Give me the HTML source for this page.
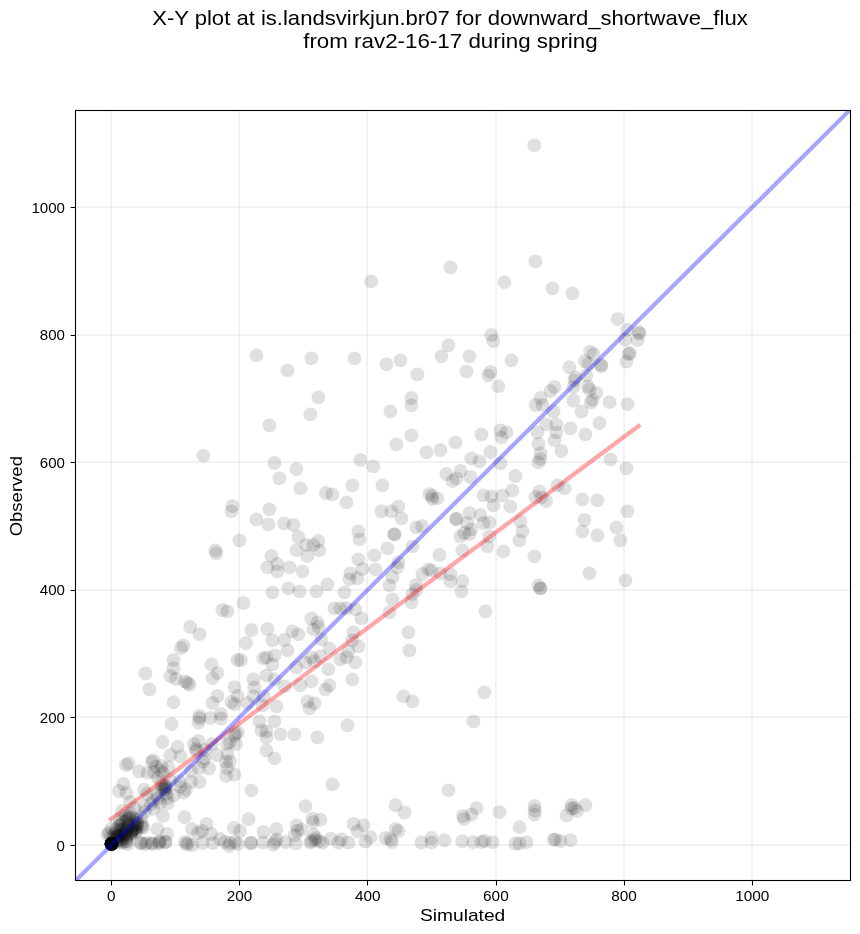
<!DOCTYPE html><html><head><meta charset="utf-8"><style>html,body{margin:0;padding:0;background:#fff;}svg{display:block;will-change:transform;}text{font-family:"Liberation Sans",sans-serif;fill:#000;}</style></head><body>
<svg width="860" height="934" viewBox="0 0 860 934">
<rect width="860" height="934" fill="#fff"/>
<text x="152.2" y="25" font-size="19.8" textLength="595.5" lengthAdjust="spacingAndGlyphs">X-Y plot at is.landsvirkjun.br07 for downward_shortwave_flux</text>
<text x="303.2" y="47.8" font-size="19.8" textLength="294.5" lengthAdjust="spacingAndGlyphs">from rav2-16-17 during spring</text>
<defs><clipPath id="ax"><rect x="75.5" y="110.5" width="775.0" height="770.0"/></clipPath></defs>
<g stroke="#000" stroke-opacity="0.05" stroke-width="2" fill="none"><path d="M111 110.5V880.5"/><path d="M75.5 845H850.5"/><path d="M239 110.5V880.5"/><path d="M75.5 717H850.5"/><path d="M367 110.5V880.5"/><path d="M75.5 590H850.5"/><path d="M496 110.5V880.5"/><path d="M75.5 462H850.5"/><path d="M624 110.5V880.5"/><path d="M75.5 335H850.5"/><path d="M752 110.5V880.5"/><path d="M75.5 207H850.5"/></g>
<g clip-path="url(#ax)" fill="#000" fill-opacity="0.120">
<circle cx="534.4" cy="145.4" r="6.95"/>
<circle cx="535.4" cy="261.4" r="6.95"/>
<circle cx="450.4" cy="267.4" r="6.95"/>
<circle cx="371.2" cy="281.4" r="6.95"/>
<circle cx="256.4" cy="355.4" r="6.95"/>
<circle cx="287.4" cy="370.4" r="6.95"/>
<circle cx="311.4" cy="358.4" r="6.95"/>
<circle cx="354.4" cy="358.4" r="6.95"/>
<circle cx="386.4" cy="364.2" r="6.95"/>
<circle cx="400.4" cy="360.4" r="6.95"/>
<circle cx="417.4" cy="374.4" r="6.95"/>
<circle cx="318.4" cy="397.4" r="6.95"/>
<circle cx="310.4" cy="414.4" r="6.95"/>
<circle cx="269.4" cy="425.4" r="6.95"/>
<circle cx="390.4" cy="411.4" r="6.95"/>
<circle cx="411.4" cy="398.0" r="6.95"/>
<circle cx="411.4" cy="405.4" r="6.95"/>
<circle cx="411.4" cy="435.4" r="6.95"/>
<circle cx="396.4" cy="444.4" r="6.95"/>
<circle cx="504.4" cy="282.2" r="6.95"/>
<circle cx="552.4" cy="288.4" r="6.95"/>
<circle cx="572.4" cy="293.4" r="6.95"/>
<circle cx="491.4" cy="335.0" r="6.95"/>
<circle cx="493.4" cy="341.0" r="6.95"/>
<circle cx="448.4" cy="345.4" r="6.95"/>
<circle cx="441.4" cy="356.4" r="6.95"/>
<circle cx="469.4" cy="356.4" r="6.95"/>
<circle cx="511.4" cy="360.4" r="6.95"/>
<circle cx="466.4" cy="371.4" r="6.95"/>
<circle cx="490.4" cy="372.0" r="6.95"/>
<circle cx="488.4" cy="375.4" r="6.95"/>
<circle cx="498.4" cy="386.4" r="6.95"/>
<circle cx="546.4" cy="424.4" r="6.95"/>
<circle cx="556.4" cy="424.4" r="6.95"/>
<circle cx="570.4" cy="428.4" r="6.95"/>
<circle cx="585.4" cy="434.4" r="6.95"/>
<circle cx="537.4" cy="432.4" r="6.95"/>
<circle cx="556.4" cy="432.4" r="6.95"/>
<circle cx="554.4" cy="440.4" r="6.95"/>
<circle cx="538.4" cy="444.0" r="6.95"/>
<circle cx="561.4" cy="451.0" r="6.95"/>
<circle cx="500.4" cy="430.4" r="6.95"/>
<circle cx="506.4" cy="432.4" r="6.95"/>
<circle cx="501.4" cy="437.4" r="6.95"/>
<circle cx="481.4" cy="434.4" r="6.95"/>
<circle cx="455.4" cy="442.4" r="6.95"/>
<circle cx="440.4" cy="450.0" r="6.95"/>
<circle cx="426.4" cy="452.4" r="6.95"/>
<circle cx="490.4" cy="452.0" r="6.95"/>
<circle cx="569.4" cy="367.3" r="6.95"/>
<circle cx="590.1" cy="351.6" r="6.95"/>
<circle cx="584.9" cy="361.3" r="6.95"/>
<circle cx="588.5" cy="363.7" r="6.95"/>
<circle cx="575.4" cy="377.5" r="6.95"/>
<circle cx="574.5" cy="380.5" r="6.95"/>
<circle cx="573.4" cy="387.1" r="6.95"/>
<circle cx="586.5" cy="375.5" r="6.95"/>
<circle cx="587.9" cy="386.5" r="6.95"/>
<circle cx="589.5" cy="389.5" r="6.95"/>
<circle cx="573.4" cy="400.5" r="6.95"/>
<circle cx="581.5" cy="411.5" r="6.95"/>
<circle cx="554.5" cy="387.0" r="6.95"/>
<circle cx="550.5" cy="391.0" r="6.95"/>
<circle cx="540.5" cy="398.0" r="6.95"/>
<circle cx="535.5" cy="405.0" r="6.95"/>
<circle cx="542.5" cy="405.0" r="6.95"/>
<circle cx="553.5" cy="411.5" r="6.95"/>
<circle cx="593.5" cy="354.0" r="6.95"/>
<circle cx="601.0" cy="365.0" r="6.95"/>
<circle cx="617.5" cy="319.2" r="6.95"/>
<circle cx="627.2" cy="329.8" r="6.95"/>
<circle cx="638.8" cy="332.0" r="6.95"/>
<circle cx="637.5" cy="340.2" r="6.95"/>
<circle cx="625.2" cy="339.5" r="6.95"/>
<circle cx="628.5" cy="354.0" r="6.95"/>
<circle cx="626.5" cy="361.5" r="6.95"/>
<circle cx="596.3" cy="392.9" r="6.95"/>
<circle cx="592.6" cy="399.9" r="6.95"/>
<circle cx="590.8" cy="402.5" r="6.95"/>
<circle cx="609.5" cy="402.2" r="6.95"/>
<circle cx="627.5" cy="404.2" r="6.95"/>
<circle cx="599.5" cy="423.2" r="6.95"/>
<circle cx="203.4" cy="455.6" r="6.95"/>
<circle cx="232.4" cy="506.0" r="6.95"/>
<circle cx="231.4" cy="511.4" r="6.95"/>
<circle cx="239.4" cy="540.4" r="6.95"/>
<circle cx="215.4" cy="550.4" r="6.95"/>
<circle cx="216.4" cy="553.4" r="6.95"/>
<circle cx="243.4" cy="603.0" r="6.95"/>
<circle cx="222.4" cy="610.0" r="6.95"/>
<circle cx="227.4" cy="611.4" r="6.95"/>
<circle cx="274.4" cy="463.0" r="6.95"/>
<circle cx="296.4" cy="469.0" r="6.95"/>
<circle cx="279.4" cy="478.4" r="6.95"/>
<circle cx="300.4" cy="488.4" r="6.95"/>
<circle cx="360.4" cy="460.0" r="6.95"/>
<circle cx="373.4" cy="466.4" r="6.95"/>
<circle cx="352.4" cy="485.4" r="6.95"/>
<circle cx="382.4" cy="485.4" r="6.95"/>
<circle cx="326.0" cy="493.0" r="6.95"/>
<circle cx="332.4" cy="494.4" r="6.95"/>
<circle cx="346.4" cy="502.4" r="6.95"/>
<circle cx="269.4" cy="509.4" r="6.95"/>
<circle cx="256.4" cy="519.4" r="6.95"/>
<circle cx="268.4" cy="524.4" r="6.95"/>
<circle cx="284.0" cy="523.4" r="6.95"/>
<circle cx="293.4" cy="525.0" r="6.95"/>
<circle cx="381.4" cy="511.4" r="6.95"/>
<circle cx="391.4" cy="511.4" r="6.95"/>
<circle cx="398.4" cy="506.4" r="6.95"/>
<circle cx="401.4" cy="518.4" r="6.95"/>
<circle cx="416.2" cy="527.4" r="6.95"/>
<circle cx="394.4" cy="534.4" r="6.95"/>
<circle cx="394.4" cy="534.4" r="6.95"/>
<circle cx="358.4" cy="531.4" r="6.95"/>
<circle cx="359.4" cy="539.4" r="6.95"/>
<circle cx="298.4" cy="537.0" r="6.95"/>
<circle cx="306.4" cy="545.0" r="6.95"/>
<circle cx="313.4" cy="545.0" r="6.95"/>
<circle cx="318.4" cy="541.0" r="6.95"/>
<circle cx="319.4" cy="550.4" r="6.95"/>
<circle cx="296.4" cy="550.4" r="6.95"/>
<circle cx="307.4" cy="556.0" r="6.95"/>
<circle cx="387.4" cy="548.4" r="6.95"/>
<circle cx="412.4" cy="546.4" r="6.95"/>
<circle cx="271.4" cy="556.0" r="6.95"/>
<circle cx="277.4" cy="564.0" r="6.95"/>
<circle cx="267.4" cy="567.4" r="6.95"/>
<circle cx="277.4" cy="571.4" r="6.95"/>
<circle cx="289.4" cy="567.4" r="6.95"/>
<circle cx="302.4" cy="571.4" r="6.95"/>
<circle cx="374.4" cy="555.4" r="6.95"/>
<circle cx="358.4" cy="559.4" r="6.95"/>
<circle cx="362.4" cy="569.0" r="6.95"/>
<circle cx="375.4" cy="569.4" r="6.95"/>
<circle cx="350.4" cy="573.4" r="6.95"/>
<circle cx="349.4" cy="579.4" r="6.95"/>
<circle cx="357.4" cy="578.4" r="6.95"/>
<circle cx="398.4" cy="562.4" r="6.95"/>
<circle cx="397.4" cy="567.4" r="6.95"/>
<circle cx="392.4" cy="577.0" r="6.95"/>
<circle cx="389.4" cy="585.4" r="6.95"/>
<circle cx="416.0" cy="585.0" r="6.95"/>
<circle cx="272.4" cy="592.4" r="6.95"/>
<circle cx="288.4" cy="588.4" r="6.95"/>
<circle cx="299.4" cy="591.4" r="6.95"/>
<circle cx="316.4" cy="591.4" r="6.95"/>
<circle cx="327.4" cy="584.4" r="6.95"/>
<circle cx="344.4" cy="592.4" r="6.95"/>
<circle cx="392.4" cy="599.4" r="6.95"/>
<circle cx="412.4" cy="594.0" r="6.95"/>
<circle cx="411.4" cy="602.4" r="6.95"/>
<circle cx="334.4" cy="608.4" r="6.95"/>
<circle cx="340.4" cy="608.4" r="6.95"/>
<circle cx="346.4" cy="608.0" r="6.95"/>
<circle cx="355.4" cy="609.4" r="6.95"/>
<circle cx="361.4" cy="618.4" r="6.95"/>
<circle cx="311.4" cy="618.4" r="6.95"/>
<circle cx="317.4" cy="622.4" r="6.95"/>
<circle cx="389.4" cy="612.4" r="6.95"/>
<circle cx="479.4" cy="461.4" r="6.95"/>
<circle cx="471.4" cy="458.4" r="6.95"/>
<circle cx="500.4" cy="463.4" r="6.95"/>
<circle cx="538.4" cy="462.4" r="6.95"/>
<circle cx="540.4" cy="459.0" r="6.95"/>
<circle cx="446.4" cy="474.0" r="6.95"/>
<circle cx="460.4" cy="471.0" r="6.95"/>
<circle cx="470.4" cy="477.0" r="6.95"/>
<circle cx="452.4" cy="481.0" r="6.95"/>
<circle cx="456.4" cy="478.4" r="6.95"/>
<circle cx="515.4" cy="476.0" r="6.95"/>
<circle cx="429.4" cy="494.0" r="6.95"/>
<circle cx="432.4" cy="499.0" r="6.95"/>
<circle cx="437.4" cy="498.4" r="6.95"/>
<circle cx="483.4" cy="495.4" r="6.95"/>
<circle cx="491.4" cy="496.4" r="6.95"/>
<circle cx="493.4" cy="505.4" r="6.95"/>
<circle cx="502.4" cy="495.4" r="6.95"/>
<circle cx="512.4" cy="490.4" r="6.95"/>
<circle cx="510.4" cy="506.4" r="6.95"/>
<circle cx="535.4" cy="497.0" r="6.95"/>
<circle cx="539.4" cy="491.4" r="6.95"/>
<circle cx="541.4" cy="497.4" r="6.95"/>
<circle cx="546.0" cy="501.0" r="6.95"/>
<circle cx="557.4" cy="485.4" r="6.95"/>
<circle cx="564.4" cy="488.4" r="6.95"/>
<circle cx="582.4" cy="499.4" r="6.95"/>
<circle cx="469.4" cy="513.0" r="6.95"/>
<circle cx="456.4" cy="519.0" r="6.95"/>
<circle cx="480.4" cy="515.0" r="6.95"/>
<circle cx="467.4" cy="523.0" r="6.95"/>
<circle cx="483.4" cy="523.0" r="6.95"/>
<circle cx="489.4" cy="522.4" r="6.95"/>
<circle cx="471.4" cy="529.4" r="6.95"/>
<circle cx="469.4" cy="534.0" r="6.95"/>
<circle cx="460.4" cy="536.4" r="6.95"/>
<circle cx="464.4" cy="533.0" r="6.95"/>
<circle cx="489.4" cy="536.4" r="6.95"/>
<circle cx="487.4" cy="546.4" r="6.95"/>
<circle cx="503.4" cy="551.4" r="6.95"/>
<circle cx="520.4" cy="521.4" r="6.95"/>
<circle cx="522.4" cy="531.4" r="6.95"/>
<circle cx="519.4" cy="540.4" r="6.95"/>
<circle cx="584.4" cy="520.0" r="6.95"/>
<circle cx="582.4" cy="531.4" r="6.95"/>
<circle cx="534.4" cy="556.4" r="6.95"/>
<circle cx="462.4" cy="550.4" r="6.95"/>
<circle cx="439.4" cy="555.0" r="6.95"/>
<circle cx="422.0" cy="526.0" r="6.95"/>
<circle cx="428.4" cy="569.4" r="6.95"/>
<circle cx="431.4" cy="570.4" r="6.95"/>
<circle cx="422.4" cy="574.0" r="6.95"/>
<circle cx="440.4" cy="573.4" r="6.95"/>
<circle cx="450.4" cy="574.4" r="6.95"/>
<circle cx="450.4" cy="581.4" r="6.95"/>
<circle cx="462.4" cy="581.0" r="6.95"/>
<circle cx="461.4" cy="591.4" r="6.95"/>
<circle cx="538.4" cy="585.4" r="6.95"/>
<circle cx="540.4" cy="588.4" r="6.95"/>
<circle cx="540.4" cy="588.4" r="6.95"/>
<circle cx="589.4" cy="573.4" r="6.95"/>
<circle cx="485.4" cy="611.4" r="6.95"/>
<circle cx="540.5" cy="453.5" r="6.95"/>
<circle cx="610.4" cy="459.4" r="6.95"/>
<circle cx="626.4" cy="468.4" r="6.95"/>
<circle cx="597.4" cy="500.4" r="6.95"/>
<circle cx="627.4" cy="511.4" r="6.95"/>
<circle cx="616.4" cy="527.4" r="6.95"/>
<circle cx="597.4" cy="535.4" r="6.95"/>
<circle cx="620.4" cy="540.4" r="6.95"/>
<circle cx="625.4" cy="580.4" r="6.95"/>
<circle cx="190.2" cy="627.0" r="6.95"/>
<circle cx="199.5" cy="634.2" r="6.95"/>
<circle cx="183.5" cy="645.5" r="6.95"/>
<circle cx="181.0" cy="648.0" r="6.95"/>
<circle cx="173.5" cy="660.0" r="6.95"/>
<circle cx="173.5" cy="668.2" r="6.95"/>
<circle cx="170.5" cy="676.0" r="6.95"/>
<circle cx="176.0" cy="679.0" r="6.95"/>
<circle cx="185.0" cy="681.5" r="6.95"/>
<circle cx="187.5" cy="683.0" r="6.95"/>
<circle cx="189.5" cy="684.5" r="6.95"/>
<circle cx="211.5" cy="664.5" r="6.95"/>
<circle cx="217.5" cy="673.2" r="6.95"/>
<circle cx="212.5" cy="678.2" r="6.95"/>
<circle cx="237.5" cy="660.0" r="6.95"/>
<circle cx="241.0" cy="660.0" r="6.95"/>
<circle cx="246.0" cy="643.0" r="6.95"/>
<circle cx="234.5" cy="687.2" r="6.95"/>
<circle cx="237.5" cy="696.0" r="6.95"/>
<circle cx="217.5" cy="696.0" r="6.95"/>
<circle cx="212.5" cy="703.0" r="6.95"/>
<circle cx="173.5" cy="702.2" r="6.95"/>
<circle cx="231.5" cy="702.0" r="6.95"/>
<circle cx="234.5" cy="704.2" r="6.95"/>
<circle cx="145.4" cy="673.4" r="6.95"/>
<circle cx="149.4" cy="689.4" r="6.95"/>
<circle cx="199.5" cy="716.0" r="6.95"/>
<circle cx="198.5" cy="722.5" r="6.95"/>
<circle cx="210.5" cy="718.0" r="6.95"/>
<circle cx="221.0" cy="718.5" r="6.95"/>
<circle cx="221.0" cy="714.0" r="6.95"/>
<circle cx="171.5" cy="724.0" r="6.95"/>
<circle cx="238.0" cy="732.5" r="6.95"/>
<circle cx="234.5" cy="735.5" r="6.95"/>
<circle cx="230.0" cy="742.0" r="6.95"/>
<circle cx="236.0" cy="744.0" r="6.95"/>
<circle cx="227.0" cy="744.0" r="6.95"/>
<circle cx="162.5" cy="742.0" r="6.95"/>
<circle cx="177.5" cy="747.0" r="6.95"/>
<circle cx="170.5" cy="755.0" r="6.95"/>
<circle cx="180.5" cy="756.5" r="6.95"/>
<circle cx="194.0" cy="744.0" r="6.95"/>
<circle cx="198.5" cy="741.0" r="6.95"/>
<circle cx="196.5" cy="751.0" r="6.95"/>
<circle cx="205.0" cy="750.0" r="6.95"/>
<circle cx="212.0" cy="744.0" r="6.95"/>
<circle cx="217.0" cy="755.0" r="6.95"/>
<circle cx="227.5" cy="754.0" r="6.95"/>
<circle cx="230.0" cy="761.5" r="6.95"/>
<circle cx="226.0" cy="762.0" r="6.95"/>
<circle cx="227.0" cy="768.0" r="6.95"/>
<circle cx="226.0" cy="776.0" r="6.95"/>
<circle cx="234.5" cy="774.5" r="6.95"/>
<circle cx="203.0" cy="761.5" r="6.95"/>
<circle cx="209.0" cy="768.5" r="6.95"/>
<circle cx="199.0" cy="768.0" r="6.95"/>
<circle cx="191.0" cy="771.0" r="6.95"/>
<circle cx="199.5" cy="782.0" r="6.95"/>
<circle cx="191.0" cy="782.0" r="6.95"/>
<circle cx="195.7" cy="749.0" r="6.95"/>
<circle cx="204.4" cy="758.3" r="6.95"/>
<circle cx="251.4" cy="630.0" r="6.95"/>
<circle cx="267.4" cy="629.0" r="6.95"/>
<circle cx="292.4" cy="631.4" r="6.95"/>
<circle cx="298.4" cy="634.4" r="6.95"/>
<circle cx="313.4" cy="629.4" r="6.95"/>
<circle cx="318.4" cy="627.0" r="6.95"/>
<circle cx="321.4" cy="639.4" r="6.95"/>
<circle cx="272.4" cy="640.4" r="6.95"/>
<circle cx="284.4" cy="640.0" r="6.95"/>
<circle cx="287.4" cy="650.4" r="6.95"/>
<circle cx="263.4" cy="658.4" r="6.95"/>
<circle cx="266.4" cy="657.4" r="6.95"/>
<circle cx="274.4" cy="655.4" r="6.95"/>
<circle cx="272.4" cy="664.4" r="6.95"/>
<circle cx="296.4" cy="667.4" r="6.95"/>
<circle cx="305.4" cy="662.4" r="6.95"/>
<circle cx="311.4" cy="657.4" r="6.95"/>
<circle cx="314.4" cy="661.4" r="6.95"/>
<circle cx="320.4" cy="656.4" r="6.95"/>
<circle cx="329.4" cy="648.4" r="6.95"/>
<circle cx="328.4" cy="669.4" r="6.95"/>
<circle cx="353.4" cy="632.4" r="6.95"/>
<circle cx="352.4" cy="640.4" r="6.95"/>
<circle cx="358.4" cy="646.4" r="6.95"/>
<circle cx="348.4" cy="651.4" r="6.95"/>
<circle cx="346.4" cy="657.4" r="6.95"/>
<circle cx="340.4" cy="659.4" r="6.95"/>
<circle cx="355.4" cy="662.4" r="6.95"/>
<circle cx="352.4" cy="679.4" r="6.95"/>
<circle cx="408.4" cy="632.4" r="6.95"/>
<circle cx="409.4" cy="650.4" r="6.95"/>
<circle cx="266.4" cy="675.4" r="6.95"/>
<circle cx="253.4" cy="679.4" r="6.95"/>
<circle cx="254.4" cy="687.4" r="6.95"/>
<circle cx="274.4" cy="679.4" r="6.95"/>
<circle cx="284.4" cy="686.4" r="6.95"/>
<circle cx="300.4" cy="685.4" r="6.95"/>
<circle cx="311.4" cy="681.4" r="6.95"/>
<circle cx="329.4" cy="685.4" r="6.95"/>
<circle cx="325.4" cy="689.4" r="6.95"/>
<circle cx="262.4" cy="705.4" r="6.95"/>
<circle cx="276.4" cy="706.4" r="6.95"/>
<circle cx="307.4" cy="701.4" r="6.95"/>
<circle cx="314.4" cy="703.4" r="6.95"/>
<circle cx="309.4" cy="708.4" r="6.95"/>
<circle cx="403.4" cy="696.4" r="6.95"/>
<circle cx="412.4" cy="701.4" r="6.95"/>
<circle cx="259.4" cy="721.4" r="6.95"/>
<circle cx="274.4" cy="721.4" r="6.95"/>
<circle cx="261.4" cy="730.4" r="6.95"/>
<circle cx="266.4" cy="731.4" r="6.95"/>
<circle cx="266.4" cy="737.4" r="6.95"/>
<circle cx="280.4" cy="734.4" r="6.95"/>
<circle cx="294.4" cy="734.4" r="6.95"/>
<circle cx="317.4" cy="737.4" r="6.95"/>
<circle cx="347.4" cy="725.4" r="6.95"/>
<circle cx="266.4" cy="750.4" r="6.95"/>
<circle cx="274.4" cy="758.4" r="6.95"/>
<circle cx="332.4" cy="784.4" r="6.95"/>
<circle cx="251.4" cy="790.4" r="6.95"/>
<circle cx="253.6" cy="696.3" r="6.95"/>
<circle cx="263.7" cy="696.3" r="6.95"/>
<circle cx="247.5" cy="703.3" r="6.95"/>
<circle cx="484.4" cy="692.4" r="6.95"/>
<circle cx="473.4" cy="721.4" r="6.95"/>
<circle cx="448.4" cy="790.4" r="6.95"/>
<circle cx="534.5" cy="806.0" r="6.95"/>
<circle cx="535.0" cy="810.5" r="6.95"/>
<circle cx="534.5" cy="814.5" r="6.95"/>
<circle cx="519.5" cy="827.2" r="6.95"/>
<circle cx="571.5" cy="805.0" r="6.95"/>
<circle cx="571.5" cy="808.5" r="6.95"/>
<circle cx="574.5" cy="808.0" r="6.95"/>
<circle cx="577.0" cy="811.0" r="6.95"/>
<circle cx="566.5" cy="815.5" r="6.95"/>
<circle cx="585.5" cy="805.0" r="6.95"/>
<circle cx="515.5" cy="843.5" r="6.95"/>
<circle cx="519.5" cy="843.5" r="6.95"/>
<circle cx="526.5" cy="842.2" r="6.95"/>
<circle cx="553.5" cy="839.7" r="6.95"/>
<circle cx="555.5" cy="839.5" r="6.95"/>
<circle cx="560.5" cy="841.0" r="6.95"/>
<circle cx="570.5" cy="840.2" r="6.95"/>
<circle cx="476.5" cy="808.2" r="6.95"/>
<circle cx="471.5" cy="814.5" r="6.95"/>
<circle cx="463.0" cy="816.0" r="6.95"/>
<circle cx="464.0" cy="819.0" r="6.95"/>
<circle cx="499.5" cy="812.2" r="6.95"/>
<circle cx="421.5" cy="842.5" r="6.95"/>
<circle cx="431.5" cy="838.0" r="6.95"/>
<circle cx="431.5" cy="842.5" r="6.95"/>
<circle cx="444.5" cy="840.2" r="6.95"/>
<circle cx="462.2" cy="841.2" r="6.95"/>
<circle cx="473.2" cy="842.2" r="6.95"/>
<circle cx="481.5" cy="842.0" r="6.95"/>
<circle cx="484.5" cy="841.0" r="6.95"/>
<circle cx="492.5" cy="842.2" r="6.95"/>
<circle cx="395.5" cy="805.2" r="6.95"/>
<circle cx="404.5" cy="812.5" r="6.95"/>
<circle cx="353.5" cy="824.0" r="6.95"/>
<circle cx="363.5" cy="825.2" r="6.95"/>
<circle cx="357.5" cy="831.2" r="6.95"/>
<circle cx="370.5" cy="837.2" r="6.95"/>
<circle cx="365.5" cy="841.5" r="6.95"/>
<circle cx="385.5" cy="838.0" r="6.95"/>
<circle cx="395.5" cy="829.0" r="6.95"/>
<circle cx="398.5" cy="831.0" r="6.95"/>
<circle cx="392.0" cy="842.0" r="6.95"/>
<circle cx="390.5" cy="839.5" r="6.95"/>
<circle cx="341.5" cy="839.5" r="6.95"/>
<circle cx="338.5" cy="842.5" r="6.95"/>
<circle cx="348.5" cy="842.5" r="6.95"/>
<circle cx="305.5" cy="806.2" r="6.95"/>
<circle cx="248.5" cy="819.2" r="6.95"/>
<circle cx="312.5" cy="818.7" r="6.95"/>
<circle cx="313.0" cy="822.3" r="6.95"/>
<circle cx="320.4" cy="819.7" r="6.95"/>
<circle cx="296.5" cy="825.5" r="6.95"/>
<circle cx="297.3" cy="830.7" r="6.95"/>
<circle cx="301.5" cy="829.7" r="6.95"/>
<circle cx="294.7" cy="835.4" r="6.95"/>
<circle cx="295.8" cy="843.3" r="6.95"/>
<circle cx="313.6" cy="834.9" r="6.95"/>
<circle cx="310.4" cy="842.7" r="6.95"/>
<circle cx="315.1" cy="840.1" r="6.95"/>
<circle cx="316.0" cy="838.0" r="6.95"/>
<circle cx="319.3" cy="841.2" r="6.95"/>
<circle cx="322.5" cy="842.7" r="6.95"/>
<circle cx="330.8" cy="838.6" r="6.95"/>
<circle cx="263.5" cy="832.0" r="6.95"/>
<circle cx="276.5" cy="829.0" r="6.95"/>
<circle cx="251.0" cy="843.0" r="6.95"/>
<circle cx="251.0" cy="843.0" r="6.95"/>
<circle cx="263.0" cy="842.5" r="6.95"/>
<circle cx="275.0" cy="842.0" r="6.95"/>
<circle cx="276.5" cy="839.5" r="6.95"/>
<circle cx="273.5" cy="844.5" r="6.95"/>
<circle cx="285.5" cy="842.2" r="6.95"/>
<circle cx="163.0" cy="816.0" r="6.95"/>
<circle cx="184.5" cy="817.2" r="6.95"/>
<circle cx="206.5" cy="824.0" r="6.95"/>
<circle cx="192.0" cy="829.0" r="6.95"/>
<circle cx="202.0" cy="831.0" r="6.95"/>
<circle cx="198.0" cy="833.0" r="6.95"/>
<circle cx="211.0" cy="834.0" r="6.95"/>
<circle cx="234.0" cy="828.0" r="6.95"/>
<circle cx="240.0" cy="831.0" r="6.95"/>
<circle cx="167.0" cy="834.0" r="6.95"/>
<circle cx="165.5" cy="842.0" r="6.95"/>
<circle cx="165.5" cy="842.0" r="6.95"/>
<circle cx="185.0" cy="842.0" r="6.95"/>
<circle cx="188.0" cy="843.0" r="6.95"/>
<circle cx="186.5" cy="844.5" r="6.95"/>
<circle cx="192.0" cy="845.0" r="6.95"/>
<circle cx="202.5" cy="843.0" r="6.95"/>
<circle cx="213.0" cy="843.0" r="6.95"/>
<circle cx="220.0" cy="839.0" r="6.95"/>
<circle cx="225.0" cy="842.0" r="6.95"/>
<circle cx="230.0" cy="843.0" r="6.95"/>
<circle cx="235.0" cy="842.0" r="6.95"/>
<circle cx="238.0" cy="844.0" r="6.95"/>
<circle cx="229.0" cy="846.0" r="6.95"/>
<circle cx="153.1" cy="760.4" r="6.95"/>
<circle cx="161.5" cy="765.9" r="6.95"/>
<circle cx="155.9" cy="766.6" r="6.95"/>
<circle cx="168.5" cy="767.3" r="6.95"/>
<circle cx="139.2" cy="771.5" r="6.95"/>
<circle cx="147.6" cy="772.9" r="6.95"/>
<circle cx="153.8" cy="772.2" r="6.95"/>
<circle cx="162.9" cy="772.9" r="6.95"/>
<circle cx="160.5" cy="770.5" r="6.95"/>
<circle cx="158.0" cy="777.8" r="6.95"/>
<circle cx="169.9" cy="779.9" r="6.95"/>
<circle cx="164.3" cy="788.3" r="6.95"/>
<circle cx="166.0" cy="786.0" r="6.95"/>
<circle cx="161.5" cy="789.7" r="6.95"/>
<circle cx="144.1" cy="789.7" r="6.95"/>
<circle cx="146.9" cy="793.8" r="6.95"/>
<circle cx="166.4" cy="793.8" r="6.95"/>
<circle cx="174.1" cy="795.2" r="6.95"/>
<circle cx="183.8" cy="792.5" r="6.95"/>
<circle cx="185.9" cy="789.7" r="6.95"/>
<circle cx="180.4" cy="786.9" r="6.95"/>
<circle cx="179.7" cy="781.3" r="6.95"/>
<circle cx="128.5" cy="763.5" r="6.95"/>
<circle cx="126.0" cy="765.0" r="6.95"/>
<circle cx="152.0" cy="762.0" r="6.95"/>
<circle cx="123.5" cy="784.0" r="6.95"/>
<circle cx="119.0" cy="791.0" r="6.95"/>
<circle cx="126.5" cy="793.0" r="6.95"/>
<circle cx="130.0" cy="802.0" r="6.95"/>
<circle cx="122.0" cy="811.0" r="6.95"/>
<circle cx="160.0" cy="803.0" r="6.95"/>
<circle cx="168.0" cy="803.0" r="6.95"/>
<circle cx="111.5" cy="843.8" r="6.95"/>
<circle cx="111.5" cy="843.8" r="6.95"/>
<circle cx="111.5" cy="843.8" r="6.95"/>
<circle cx="111.5" cy="843.8" r="6.95"/>
<circle cx="111.5" cy="843.8" r="6.95"/>
<circle cx="111.5" cy="843.8" r="6.95"/>
<circle cx="111.5" cy="843.8" r="6.95"/>
<circle cx="111.5" cy="843.8" r="6.95"/>
<circle cx="111.5" cy="843.8" r="6.95"/>
<circle cx="111.5" cy="843.8" r="6.95"/>
<circle cx="111.5" cy="843.8" r="6.95"/>
<circle cx="111.5" cy="843.8" r="6.95"/>
<circle cx="111.5" cy="843.8" r="6.95"/>
<circle cx="111.5" cy="843.8" r="6.95"/>
<circle cx="111.5" cy="843.8" r="6.95"/>
<circle cx="111.5" cy="843.8" r="6.95"/>
<circle cx="111.5" cy="843.8" r="6.95"/>
<circle cx="111.5" cy="843.8" r="6.95"/>
<circle cx="111.5" cy="843.8" r="6.95"/>
<circle cx="111.5" cy="843.8" r="6.95"/>
<circle cx="111.5" cy="843.8" r="6.95"/>
<circle cx="111.5" cy="843.8" r="6.95"/>
<circle cx="111.5" cy="843.8" r="6.95"/>
<circle cx="111.5" cy="843.8" r="6.95"/>
<circle cx="111.5" cy="843.8" r="6.95"/>
<circle cx="111.5" cy="843.8" r="6.95"/>
<circle cx="111.5" cy="843.8" r="6.95"/>
<circle cx="111.5" cy="843.8" r="6.95"/>
<circle cx="107.4" cy="834.7" r="6.95"/>
<circle cx="114.8" cy="841.9" r="6.95"/>
<circle cx="110.6" cy="836.3" r="6.95"/>
<circle cx="116.9" cy="842.3" r="6.95"/>
<circle cx="113.2" cy="837.5" r="6.95"/>
<circle cx="108.8" cy="832.7" r="6.95"/>
<circle cx="116.6" cy="839.5" r="6.95"/>
<circle cx="115.2" cy="836.9" r="6.95"/>
<circle cx="120.9" cy="841.8" r="6.95"/>
<circle cx="117.1" cy="837.7" r="6.95"/>
<circle cx="114.3" cy="834.4" r="6.95"/>
<circle cx="121.5" cy="840.6" r="6.95"/>
<circle cx="118.1" cy="836.2" r="6.95"/>
<circle cx="111.5" cy="828.7" r="6.95"/>
<circle cx="121.7" cy="838.4" r="6.95"/>
<circle cx="116.3" cy="832.2" r="6.95"/>
<circle cx="126.4" cy="841.3" r="6.95"/>
<circle cx="119.9" cy="834.3" r="6.95"/>
<circle cx="116.3" cy="829.3" r="6.95"/>
<circle cx="122.0" cy="834.2" r="6.95"/>
<circle cx="119.8" cy="831.3" r="6.95"/>
<circle cx="126.7" cy="837.2" r="6.95"/>
<circle cx="124.5" cy="834.3" r="6.95"/>
<circle cx="120.6" cy="829.8" r="6.95"/>
<circle cx="125.5" cy="834.1" r="6.95"/>
<circle cx="122.4" cy="829.8" r="6.95"/>
<circle cx="118.6" cy="825.6" r="6.95"/>
<circle cx="125.4" cy="831.3" r="6.95"/>
<circle cx="120.4" cy="825.5" r="6.95"/>
<circle cx="130.6" cy="834.9" r="6.95"/>
<circle cx="124.8" cy="828.4" r="6.95"/>
<circle cx="121.2" cy="824.3" r="6.95"/>
<circle cx="130.9" cy="833.0" r="6.95"/>
<circle cx="127.3" cy="828.9" r="6.95"/>
<circle cx="119.5" cy="819.8" r="6.95"/>
<circle cx="131.8" cy="831.5" r="6.95"/>
<circle cx="122.4" cy="821.5" r="6.95"/>
<circle cx="132.4" cy="830.6" r="6.95"/>
<circle cx="128.4" cy="826.0" r="6.95"/>
<circle cx="125.3" cy="821.6" r="6.95"/>
<circle cx="134.0" cy="829.8" r="6.95"/>
<circle cx="128.6" cy="823.5" r="6.95"/>
<circle cx="136.6" cy="830.6" r="6.95"/>
<circle cx="133.0" cy="826.8" r="6.95"/>
<circle cx="126.7" cy="819.3" r="6.95"/>
<circle cx="136.1" cy="827.7" r="6.95"/>
<circle cx="127.9" cy="819.3" r="6.95"/>
<circle cx="125.6" cy="816.2" r="6.95"/>
<circle cx="135.2" cy="825.0" r="6.95"/>
<circle cx="129.1" cy="817.6" r="6.95"/>
<circle cx="137.4" cy="825.8" r="6.95"/>
<circle cx="134.3" cy="821.4" r="6.95"/>
<circle cx="129.3" cy="816.0" r="6.95"/>
<circle cx="137.5" cy="822.9" r="6.95"/>
<circle cx="132.7" cy="817.9" r="6.95"/>
<circle cx="143.5" cy="827.7" r="6.95"/>
<circle cx="136.2" cy="819.7" r="6.95"/>
<circle cx="131.0" cy="813.7" r="6.95"/>
<circle cx="116.1" cy="837.2" r="6.95"/>
<circle cx="119.7" cy="840.3" r="6.95"/>
<circle cx="119.3" cy="836.5" r="6.95"/>
<circle cx="126.3" cy="838.8" r="6.95"/>
<circle cx="126.0" cy="835.6" r="6.95"/>
<circle cx="126.2" cy="829.7" r="6.95"/>
<circle cx="131.5" cy="833.2" r="6.95"/>
<circle cx="132.3" cy="830.1" r="6.95"/>
<circle cx="135.5" cy="832.5" r="6.95"/>
<circle cx="136.2" cy="828.8" r="6.95"/>
<circle cx="137.1" cy="823.3" r="6.95"/>
<circle cx="141.2" cy="826.8" r="6.95"/>
<circle cx="141.9" cy="824.5" r="6.95"/>
<circle cx="141.2" cy="817.5" r="6.95"/>
<circle cx="134.7" cy="808.5" r="6.95"/>
<circle cx="145.0" cy="811.8" r="6.95"/>
<circle cx="144.2" cy="805.9" r="6.95"/>
<circle cx="153.3" cy="808.8" r="6.95"/>
<circle cx="150.9" cy="804.2" r="6.95"/>
<circle cx="153.1" cy="800.3" r="6.95"/>
<circle cx="158.1" cy="798.3" r="6.95"/>
<circle cx="156.7" cy="795.3" r="6.95"/>
<circle cx="167.2" cy="798.2" r="6.95"/>
<circle cx="164.5" cy="789.9" r="6.95"/>
<circle cx="165.5" cy="786.2" r="6.95"/>
<circle cx="146.9" cy="842.9" r="6.95"/>
<circle cx="159.7" cy="841.6" r="6.95"/>
<circle cx="151.6" cy="843.2" r="6.95"/>
<circle cx="140.6" cy="842.9" r="6.95"/>
<circle cx="159.7" cy="842.0" r="6.95"/>
<circle cx="126.5" cy="841.6" r="6.95"/>
<circle cx="140.8" cy="843.0" r="6.95"/>
<circle cx="145.0" cy="844.0" r="6.95"/>
<circle cx="122.5" cy="843.1" r="6.95"/>
<circle cx="158.7" cy="843.6" r="6.95"/>
<circle cx="152.6" cy="843.8" r="6.95"/>
<circle cx="127.6" cy="844.2" r="6.95"/>
<circle cx="157.5" cy="829.2" r="6.95"/>
<circle cx="163.0" cy="786.0" r="6.95"/>
<circle cx="166.0" cy="789.0" r="6.95"/>
<circle cx="161.0" cy="784.0" r="6.95"/>
<circle cx="639.5" cy="333.5" r="6.95"/>
<circle cx="601.5" cy="366.0" r="6.95"/>
<circle cx="235.5" cy="733.5" r="6.95"/>
<circle cx="199.5" cy="718.5" r="6.95"/>
<circle cx="311.5" cy="841.0" r="6.95"/>
<circle cx="416.3" cy="590.0" r="6.95"/>
<circle cx="630.0" cy="353.0" r="6.95"/>
<circle cx="456.0" cy="519.0" r="6.95"/>
<circle cx="432.0" cy="496.0" r="6.95"/>
</g>
<g clip-path="url(#ax)" fill="none" stroke-linecap="round" stroke-width="4.2">
<path d="M111.0 819.1L638.5 426.1" stroke="#ff0000" stroke-opacity="0.35" stroke-linecap="square" stroke-width="4.3"/>
<path d="M73.04 883.18L855.06 104.82" stroke="#0000ff" stroke-opacity="0.35"/>
</g>
<rect x="75.5" y="110.5" width="775.0" height="770.0" fill="none" stroke="#000" stroke-width="1.1"/>
<path d="M111.5 880.5v4.9M75.5 845.5h-4.9M239.5 880.5v4.9M75.5 717.5h-4.9M367.5 880.5v4.9M75.5 590.5h-4.9M496.5 880.5v4.9M75.5 462.5h-4.9M624.5 880.5v4.9M75.5 335.5h-4.9M752.5 880.5v4.9M75.5 207.5h-4.9" stroke="#000" stroke-width="1.1" fill="none"/>
<text transform="translate(111.30 900.8) scale(1.09 1)" font-size="14.1" text-anchor="middle">0</text>
<text transform="translate(65.0 850.50) scale(1.07 1)" font-size="14.1" text-anchor="end">0</text>
<text transform="translate(239.50 900.8) scale(1.09 1)" font-size="14.1" text-anchor="middle">200</text>
<text transform="translate(65.0 722.90) scale(1.07 1)" font-size="14.1" text-anchor="end">200</text>
<text transform="translate(367.70 900.8) scale(1.09 1)" font-size="14.1" text-anchor="middle">400</text>
<text transform="translate(65.0 595.30) scale(1.07 1)" font-size="14.1" text-anchor="end">400</text>
<text transform="translate(495.90 900.8) scale(1.09 1)" font-size="14.1" text-anchor="middle">600</text>
<text transform="translate(65.0 467.70) scale(1.07 1)" font-size="14.1" text-anchor="end">600</text>
<text transform="translate(624.10 900.8) scale(1.09 1)" font-size="14.1" text-anchor="middle">800</text>
<text transform="translate(65.0 340.10) scale(1.07 1)" font-size="14.1" text-anchor="end">800</text>
<text transform="translate(752.30 900.8) scale(1.09 1)" font-size="14.1" text-anchor="middle">1000</text>
<text transform="translate(65.0 212.50) scale(1.07 1)" font-size="14.1" text-anchor="end">1000</text>
<text transform="translate(462.6 920.8) scale(1.17 1)" font-size="16.4" text-anchor="middle">Simulated</text>
<text transform="translate(22 496.2) rotate(-90) scale(1.13 1)" font-size="16.4" text-anchor="middle">Observed</text>
</svg></body></html>
